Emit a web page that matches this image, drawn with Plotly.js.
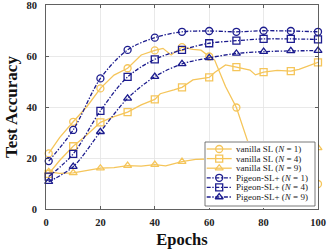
<!DOCTYPE html>
<html><head><meta charset="utf-8">
<script src="https://cdn.plot.ly/plotly-3.0.1.min.js"></script>
<style>html,body{margin:0;padding:0;background:#fff}#chart{width:329px;height:249px}</style>
</head><body><div id="chart"></div>
<script>
// ---------- data ----------
const markerEpochs = [1, 10, 20, 30, 40, 50, 60, 70, 80, 90, 100];

const vanN1x = [1, 5, 10, 15, 20, 25, 30, 35, 40, 43, 46, 50, 54, 57, 60, 62, 66, 70, 74, 78, 80, 85, 90, 95, 100];
const vanN1y = [21.8, 28, 34.2, 40.1, 47.3, 52.5, 55.2, 60.4, 62.2, 63, 60.4, 63.5, 62.6, 62.3, 59.8, 58.4, 48, 39.8, 27, 16, 13, 11, 10.3, 10, 9.8];

const vanN4x = [1, 5, 10, 15, 20, 25, 30, 35, 40, 42, 47, 50, 54, 60, 62, 66, 70, 75, 77, 80, 85, 90, 93, 100];
const vanN4y = [13.8, 19, 24.6, 29, 34, 36.2, 38, 40.8, 43, 45.2, 46.7, 47.7, 50.6, 51.6, 53.5, 56.5, 55.6, 54.5, 52.6, 53.7, 54.4, 54.1, 54.8, 57.5];

const vanN9x = [1, 5, 10, 15, 20, 25, 30, 35, 40, 44, 50, 55, 60, 70, 80, 90, 100];
const vanN9y = [14.6, 14, 14.2, 15, 16, 16.2, 17, 16.8, 17.4, 16.9, 18.6, 19.5, 19.6, 20.5, 21.5, 22.5, 24];

const pigEpochs = [1, 10, 20, 30, 40, 50, 60, 70, 80, 90, 100];
const pigN1 = [18.8, 31, 51.2, 62.4, 67.2, 69.5, 69.8, 69.5, 69.9, 69.8, 69.5];
const pigN4 = [12.7, 21.6, 38.5, 51.8, 58.7, 62.4, 65, 66, 66.7, 66.7, 66.5];
const pigN9 = [10.7, 16.6, 30.3, 43.4, 51.9, 56.9, 59.3, 61, 61.7, 62, 62.1];

const seriesNames = ['vanilla SL (<i>N</i> = 1)', 'vanilla SL (<i>N</i> = 4)', 'vanilla SL (<i>N</i> = 9)',
                     'Pigeon-SL+ (<i>N</i> = 1)', 'Pigeon-SL+ (<i>N</i> = 4)', 'Pigeon-SL+ (<i>N</i> = 9)'];
const xTicks = [0, 20, 40, 60, 80, 100];
const yTicks = [0, 20, 40, 60, 80];

// ---------- style ----------
const ORANGE = '#F5C55A', NAVY = '#1C1C8E';
const SYMS = ['circle-open', 'square-open', 'triangle-up-open'];
const DASHDOT = '4px,1.6px,1.4px,1.6px';
const LW = 1.3, MS = 7;

function pick(xs, ys) {
  const mx = [], my = [];
  xs.forEach((v, i) => { if (markerEpochs.includes(v)) { mx.push(v); my.push(ys[i]); } });
  return {mx, my};
}

const traces = [];
[[vanN1x, vanN1y], [vanN4x, vanN4y], [vanN9x, vanN9y]].forEach(([xs, ys], k) => {
  traces.push({x: xs, y: ys, mode: 'lines', line: {color: ORANGE, width: LW},
               hoverinfo: 'skip', showlegend: false});
  const p = pick(xs, ys);
  traces.push({x: p.mx, y: p.my, mode: 'markers', cliponaxis: false,
               marker: {symbol: SYMS[k], size: MS, color: ORANGE, line: {color: ORANGE, width: LW}},
               hoverinfo: 'skip', showlegend: false});
});
[pigN1, pigN4, pigN9].forEach((ys, k) => {
  traces.push({x: pigEpochs, y: ys, mode: 'lines+markers', cliponaxis: false,
               line: {color: NAVY, width: LW, dash: DASHDOT, shape: 'spline', smoothing: 0.9},
               marker: {symbol: SYMS[k], size: MS, color: NAVY, line: {color: NAVY, width: LW}},
               hoverinfo: 'skip', showlegend: false});
});

// ---------- custom legend (inset axes, 1 unit = 1 px) ----------
const BOXW = 110, BOXH = 64, ROW0 = 57, ROWSTEP = 9.6;
traces.push({x: [0, BOXW, BOXW, 0, 0], y: [0, 0, BOXH, BOXH, 0], xaxis: 'x2', yaxis: 'y2',
             mode: 'lines', fill: 'toself', fillcolor: '#ffffff',
             line: {color: '#555', width: 0.8}, hoverinfo: 'skip', showlegend: false});
const annotations = [];
seriesNames.forEach((name, i) => {
  const yy = ROW0 - ROWSTEP * i;
  const isPig = i >= 3;
  const col = isPig ? NAVY : ORANGE;
  traces.push({x: [1.7, 26.7], y: [yy, yy], xaxis: 'x2', yaxis: 'y2', mode: 'lines',
               line: {color: col, width: LW, dash: isPig ? DASHDOT : 'solid'},
               hoverinfo: 'skip', showlegend: false});
  traces.push({x: [14.2], y: [yy], xaxis: 'x2', yaxis: 'y2', mode: 'markers',
               marker: {symbol: SYMS[i % 3], size: MS, color: col, line: {color: col, width: LW}},
               hoverinfo: 'skip', showlegend: false});
  annotations.push({x: 29.3, y: yy, xref: 'x2', yref: 'y2', xanchor: 'left', yanchor: 'middle',
                    showarrow: false, text: name,
                    font: {family: 'Liberation Serif', size: 9, color: '#222'}});
});

const tickFont = {family: 'Liberation Serif', size: 10.5, color: '#222', weight: 'bold'};
const layout = {
  width: 329, height: 249,
  margin: {l: 46, r: 11, t: 5, b: 40},
  paper_bgcolor: '#fff', plot_bgcolor: '#fff',
  showlegend: false,
  xaxis: {range: [0, 100], tickvals: xTicks, ticktext: xTicks.map(String),
          showgrid: true, gridcolor: '#e4e4e4', gridwidth: 0.8, zeroline: false,
          showline: true, linecolor: '#3a3a3a', linewidth: 0.8, mirror: 'ticks',
          ticks: 'inside', ticklen: 3, tickcolor: '#3a3a3a', tickwidth: 0.8,
          tickfont: tickFont, ticklabelstandoff: 4, ticklabeloverflow: 'allow',
          title: {text: 'Epochs', standoff: 6,
                  font: {family: 'Liberation Serif', size: 16.5, color: '#111', weight: 'bold'}},
          fixedrange: true},
  yaxis: {range: [0, 80], tickvals: yTicks, ticktext: yTicks.map(String),
          showgrid: true, gridcolor: '#e4e4e4', gridwidth: 0.8, zeroline: false,
          showline: true, linecolor: '#3a3a3a', linewidth: 0.8, mirror: 'ticks',
          ticks: 'inside', ticklen: 3, tickcolor: '#3a3a3a', tickwidth: 0.8,
          tickfont: tickFont, ticklabelstandoff: 6, ticklabeloverflow: 'allow',
          title: {text: 'Test Accuracy', standoff: 4,
                  font: {family: 'Liberation Serif', size: 17, color: '#111', weight: 'bold'}},
          fixedrange: true},
  xaxis2: {domain: [(204 - 46) / 272, 1], range: [-1, 113], anchor: 'y2', visible: false, fixedrange: true},
  yaxis2: {domain: [1 / 204, 68 / 204], range: [-2, 65], anchor: 'x2', visible: false, fixedrange: true},
  annotations: annotations
};

Plotly.newPlot('chart', traces, layout, {displayModeBar: false, staticPlot: true});
</script></body></html>
